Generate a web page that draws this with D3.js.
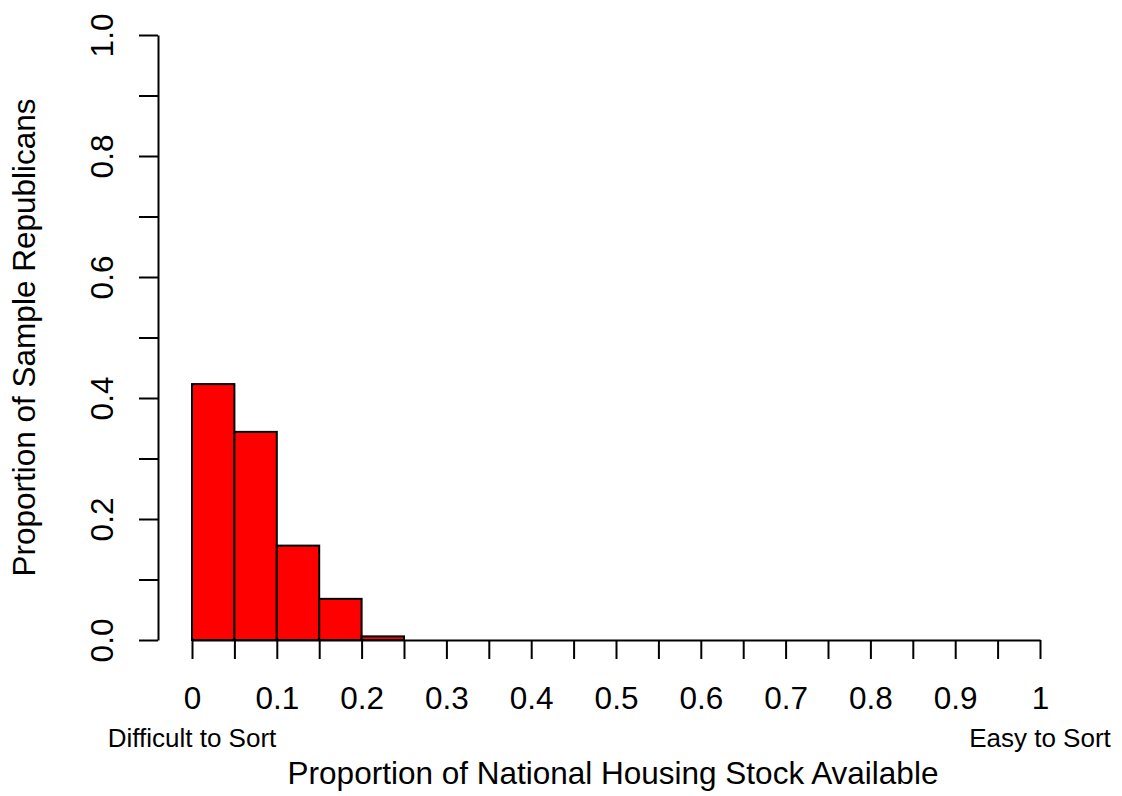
<!DOCTYPE html>
<meta charset="utf-8">
<head>
    <style>
        body { margin: 0; background: #fff; }
        text { font-family: "Liberation Sans", Arial, sans-serif; fill: #000; }
        .axis path, .axis line { stroke: #000; stroke-width: 2; }
    </style>
    <script src="https://d3js.org/d3.v7.min.js"></script>
</head>
<body>
<script>

    // histogram bins (left edges) and the share of sample in each
    var binStarts = [0, 0.05, 0.1, 0.15, 0.2, 0.25, 0.3, 0.35, 0.4, 0.45,
                     0.5, 0.55, 0.6, 0.65, 0.7, 0.75, 0.8, 0.85, 0.9, 0.95];
    var binWidth = 0.05;
    var proportions = [0.423, 0.344, 0.156, 0.068, 0.006, 0, 0, 0, 0, 0,
                       0, 0, 0, 0, 0, 0, 0, 0, 0, 0];

    var xTicks = d3.range(0, 21).map(function (i) { return i / 20; });
    var xLabels = ["0", "0.1", "0.2", "0.3", "0.4", "0.5", "0.6", "0.7", "0.8", "0.9", "1"];
    var yTicks = d3.range(0, 11).map(function (i) { return i / 10; });
    var yLabels = ["0.0", "0.2", "0.4", "0.6", "0.8", "1.0"];

    var width = 1122, height = 796;

    var x = d3.scaleLinear().domain([0, 1]).range([192, 1040]);
    var y = d3.scaleLinear().domain([0, 1]).range([640, 35]);

    var svg = d3.select("body")
        .append("svg")
        .attr("width", width)
        .attr("height", height);

    // bars
    svg.append("g")
        .selectAll("rect")
        .data(binStarts)
        .enter()
        .append("rect")
        .attr("x", function (d) { return x(d); })
        .attr("width", function (d) { return x(d + binWidth) - x(d); })
        .attr("y", function (d, i) { return y(proportions[i]); })
        .attr("height", function (d, i) { return y(0) - y(proportions[i]); })
        .style("fill", "#ff0000")
        .style("stroke", "#000")
        .style("stroke-width", 2);

    // x axis
    var xAxis = svg.append("g")
        .attr("class", "axis")
        .attr("transform", "translate(0," + y(0) + ")")
        .call(d3.axisBottom(x)
            .tickValues(xTicks)
            .tickSize(19)
            .tickSizeOuter(0)
            .tickFormat(function (d, i) { return i % 2 === 0 ? xLabels[i / 2] : ""; }));
    xAxis.selectAll("text")
        .attr("y", 69)
        .attr("dy", 0)
        .style("font-size", "31.5px");

    // y axis
    var yAxis = svg.append("g")
        .attr("class", "axis")
        .attr("transform", "translate(158,0)")
        .call(d3.axisLeft(y)
            .tickValues(yTicks)
            .tickSize(19)
            .tickSizeOuter(0)
            .tickFormat(function (d, i) { return i % 2 === 0 ? yLabels[i / 2] : ""; }));
    yAxis.selectAll("text")
        .attr("transform", "rotate(-90)")
        .attr("x", 0)
        .attr("y", -45)
        .attr("dy", 0)
        .style("text-anchor", "middle")
        .style("font-size", "31.5px");

    svg.selectAll(".axis").attr("font-family", null).attr("font-size", null);

    // axis titles
    svg.append("text")
        .attr("x", 613)
        .attr("y", 784)
        .style("text-anchor", "middle")
        .style("font-size", "31.5px")
        .text("Proportion of National Housing Stock Available");

    svg.append("text")
        .attr("transform", "translate(35," + y(0.5) + ")rotate(-90)")
        .style("text-anchor", "middle")
        .style("font-size", "31.5px")
        .text("Proportion of Sample Republicans");

    // end labels under the x axis
    svg.append("text")
        .attr("x", x(0))
        .attr("y", 747)
        .style("text-anchor", "middle")
        .style("font-size", "26px")
        .text("Difficult to Sort");

    svg.append("text")
        .attr("x", x(1))
        .attr("y", 747)
        .style("text-anchor", "middle")
        .style("font-size", "26px")
        .text("Easy to Sort");

</script>
</body>
